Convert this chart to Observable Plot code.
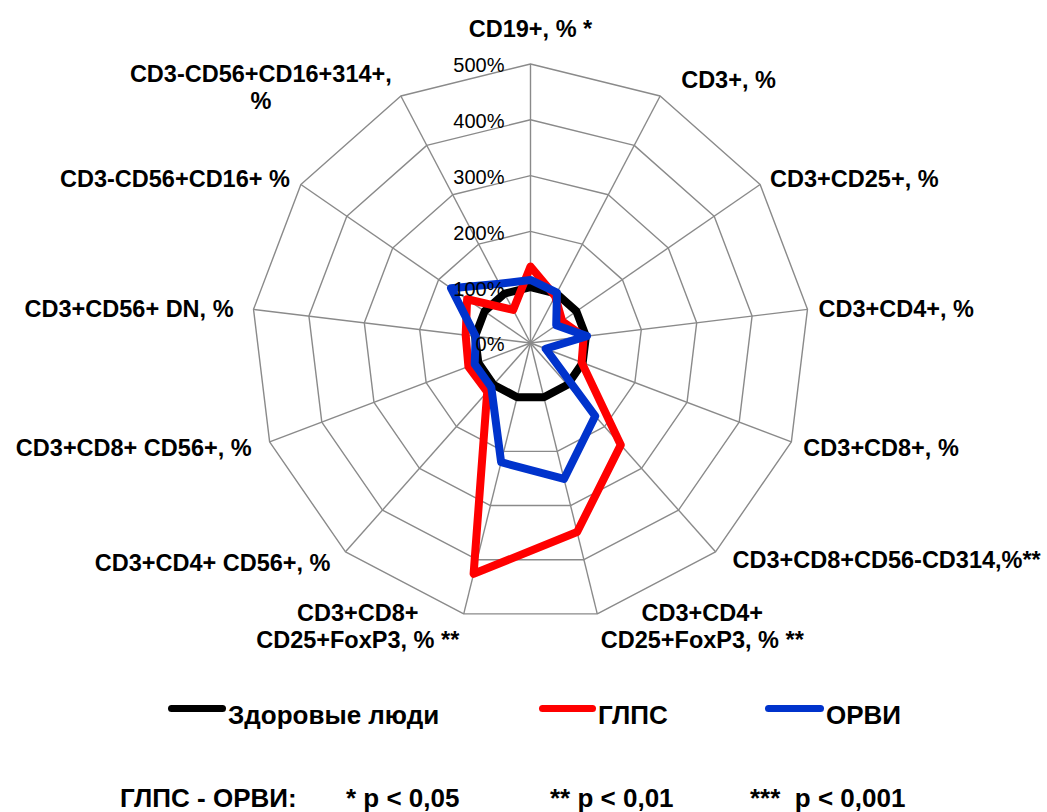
<!DOCTYPE html>
<html>
<head>
<meta charset="utf-8">
<script src="https://cdn.jsdelivr.net/npm/d3@7"></script>
<script src="https://cdn.jsdelivr.net/npm/@observablehq/plot@0.6"></script>
<style>
  html, body { margin: 0; padding: 0; background: #fff; }
  #wrap { position: relative; width: 1047px; height: 812px; font-family: "Liberation Sans", Arial, sans-serif; }
  .lg { position: absolute; font-size: 26px; line-height: 26px; font-weight: bold; color: #000; white-space: pre; }
  .sw { position: absolute; height: 7px; border-radius: 4px; }
</style>
</head>
<body>
<div id="wrap">
  <div id="chart"></div>
</div>
<script>
// ---- data ----
const categories = [
  "CD19+, % *",
  "CD3+, %",
  "CD3+CD25+, %",
  "CD3+CD4+, %",
  "CD3+CD8+, %",
  "CD3+CD8+CD56-CD314,%**",
  "CD3+CD4+\nCD25+FoxP3, % **",
  "CD3+CD8+\nCD25+FoxP3, % **",
  "CD3+CD4+ CD56+, %",
  "CD3+CD8+ CD56+, %",
  "CD3+CD56+ DN, %",
  "CD3-CD56+CD16+ %",
  "CD3-CD56+CD16+314+,\n%"
];
const healthy = [100, 100, 100, 100, 100, 100, 100, 100, 100, 100, 100, 100, 100];
const glps    = [137, 95, 69, 96, 98, 244, 349, 426, 117, 119, 117, 138, 67];
const orvi    = [113, 102, 56, 102, 29, 175, 251, 220, 106, 107, 99, 173, 120];
const seriesNames = ["Здоровые люди", "ГЛПС", "ОРВИ"];
const ringLevels = [100, 200, 300, 400, 500];
const tickValues = [0, 100, 200, 300, 400, 500];
const tickLabels = ["0%", "100%", "200%", "300%", "400%", "500%"];
const footLabels = ["ГЛПС - ОРВИ:", "* p < 0,05", "** p < 0,01", "***  p < 0,001"];

// ---- styling / layout ----
const colors = ["#000000", "#FF0000", "#0033CC"];
const W = 1047, H = 665, CX = 530, CY = 342.5, K = 279 / 500;
const N = categories.length;
const ang = i => 2 * Math.PI * i / N;
const px = (v, i) => v * Math.sin(ang(i));
const py = (v, i) => v * Math.cos(ang(i));
const FONT = "Liberation Sans, Arial, sans-serif";

// label placement relative to the 500% vertex: [anchor, dx, dy, fontSize]
const labelLayout = [
  ["middle", 0, -36, 23.5],
  ["start", 21, -17, 23.5],
  ["start", 10, -6, 23.5],
  ["start", 11, -1, 23.5],
  ["start", 12, 5, 23.5],
  ["start", 17, 7, 23.5],
  ["middle", 105, 12, 23.5],
  ["middle", -106, 12, 23.5],
  ["end", -15, 10, 23.5],
  ["end", -18, 5, 23.5],
  ["end", -20, -1, 23.5],
  ["end", -11, -6, 23.5],
  ["middle", -140, -9, 23.5]
];

const seriesValues = [healthy, glps, orvi];
const rows = seriesValues.flatMap((vals, s) => vals.map((v, i) => ({series: seriesNames[s], i, v})));
const ringRows = ringLevels.flatMap(L => d3.range(N).map(i => ({L, i})));
const idx = d3.range(N);

const marks = [
  Plot.line(ringRows, {x: d => px(d.L, d.i), y: d => py(d.L, d.i), z: "L", curve: "linear-closed", stroke: "#8a8a8a", strokeWidth: 1.4}),
  Plot.link(idx, {x1: 0, y1: 0, x2: i => px(500, i), y2: i => py(500, i), stroke: "#8a8a8a", strokeWidth: 1.4}),
  Plot.line(rows, {x: d => px(d.v, d.i), y: d => py(d.v, d.i), z: "series", stroke: "series", curve: "linear-closed", strokeWidth: 8, strokeLinejoin: "round"}),
  Plot.text(tickValues, {x: 0, y: d => d, text: (d, j) => tickLabels[j], textAnchor: "end", dx: -26, dy: 2, fontSize: 20, fill: "#000"}),
  ...idx.map(i => Plot.text([i], {
    x: k => px(500, k), y: k => py(500, k), text: k => categories[k],
    textAnchor: labelLayout[i][0], dx: labelLayout[i][1], dy: labelLayout[i][2],
    fontSize: labelLayout[i][3], fontWeight: "bold", lineHeight: 1.17, fill: "#000"
  }))
];

const chart = Plot.plot({
  width: W, height: H, margin: 0,
  x: {domain: [-CX / K, (W - CX) / K], axis: null},
  y: {domain: [-(H - CY) / K, CY / K], axis: null},
  color: {domain: seriesNames, range: colors},
  style: {fontFamily: FONT, background: "#fff", overflow: "visible"},
  marks
});
document.getElementById("chart").appendChild(chart);

// ---- legend and footnote (HTML below the SVG) ----
const wrap = document.getElementById("wrap");
const legendPos = [[168, 228], [539, 598], [765, 826]];
seriesNames.forEach((name, s) => {
  const sw = document.createElement("div");
  sw.className = "sw";
  sw.style.left = legendPos[s][0] + "px";
  sw.style.width = (legendPos[s][1] - legendPos[s][0] - 2) + "px";
  sw.style.top = "705px";
  sw.style.background = colors[s];
  wrap.appendChild(sw);
  const t = document.createElement("div");
  t.className = "lg";
  t.style.left = legendPos[s][1] + "px";
  t.style.top = "702px";
  t.textContent = name;
  wrap.appendChild(t);
});
const footX = [120, 346, 550, 750];
footLabels.forEach((txt, j) => {
  const t = document.createElement("div");
  t.className = "lg";
  t.style.left = footX[j] + "px";
  t.style.top = "785px";
  t.textContent = txt;
  wrap.appendChild(t);
});
</script>
</body>
</html>
